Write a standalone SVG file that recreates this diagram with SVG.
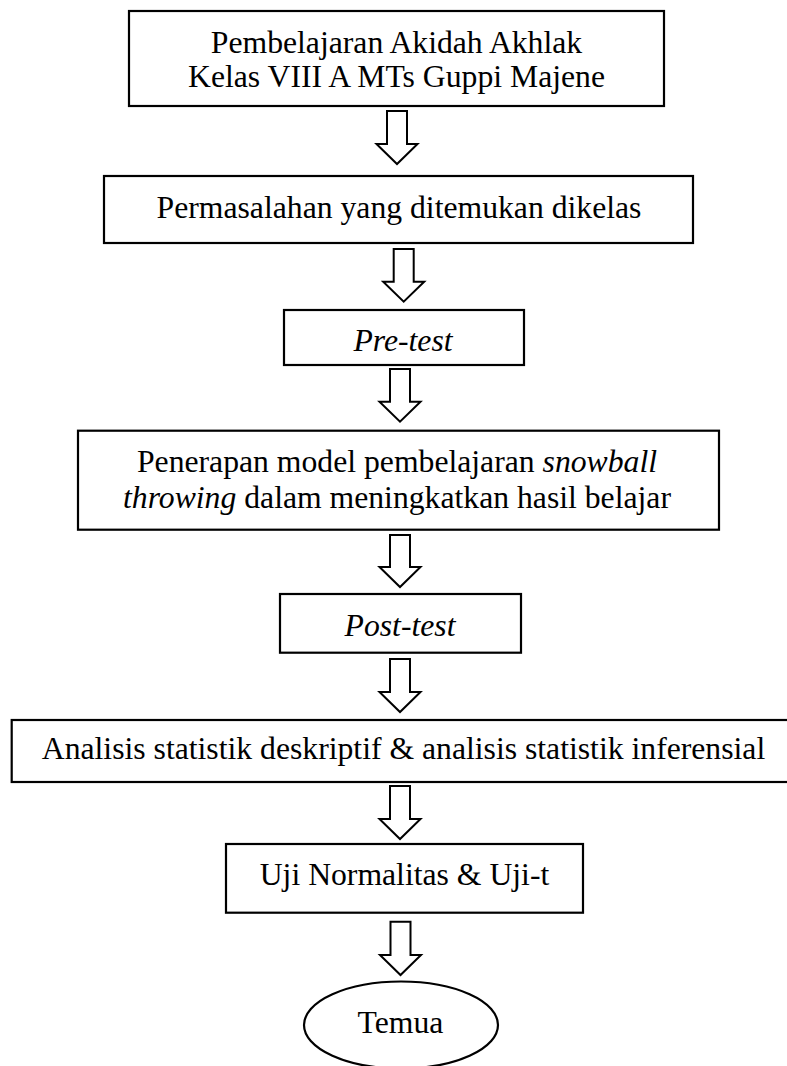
<svg xmlns="http://www.w3.org/2000/svg" width="787" height="1066" viewBox="0 0 787 1066">
<style>
.box{fill:#fff;stroke:#000;stroke-width:2.2}
.arr{fill:#fff;stroke:#000;stroke-width:2;stroke-linejoin:miter}
.t{font-family:"Liberation Serif","Times New Roman",serif;font-size:31.7px;fill:#000;text-anchor:middle}
.i{font-style:italic}
</style>
<rect width="787" height="1066" fill="#fff"/>
<g id="connectors">
<path class="arr" d="M387,111 L407,111 L407,144 L417.5,144 L397,164 L376.5,144 L387,144 Z"/>
<path class="arr" d="M393.7,249 L413.7,249 L413.7,281.7 L424.2,281.7 L403.7,301.7 L383.2,281.7 L393.7,281.7 Z"/>
<path class="arr" d="M390,369 L410,369 L410,401.7 L420.5,401.7 L400,421.7 L379.5,401.7 L390,401.7 Z"/>
<path class="arr" d="M390,535 L410,535 L410,567 L420.5,567 L400,587 L379.5,567 L390,567 Z"/>
<path class="arr" d="M390,659 L410,659 L410,692 L420.5,692 L400,712 L379.5,692 L390,692 Z"/>
<path class="arr" d="M390,786 L410,786 L410,819 L420.5,819 L400,839 L379.5,819 L390,819 Z"/>
<path class="arr" d="M390.5,921.7 L410.5,921.7 L410.5,955 L421,955 L400.5,975 L380,955 L390.5,955 Z"/>
</g>
<g id="n1">
<rect class="box" x="129" y="11" width="535" height="95"/>
<text class="t" x="396.5" y="52.7">Pembelajaran Akidah Akhlak</text>
<text class="t" x="396.5" y="87.3">Kelas VIII A MTs Guppi Majene</text>
</g>
<g id="n2">
<rect class="box" x="104" y="176" width="589" height="67"/>
<text class="t" x="399" y="218">Permasalahan yang ditemukan dikelas</text>
</g>
<g id="n3">
<rect class="box" x="284" y="310" width="240" height="55"/>
<text class="t i" x="403" y="350.7">Pre-test</text>
</g>
<g id="n4">
<rect class="box" x="78" y="430.7" width="641" height="99"/>
<text class="t" x="397" y="471.7">Penerapan model pembelajaran <tspan class="i">snowball</tspan></text>
<text class="t" x="397" y="508"><tspan class="i">throwing</tspan> dalam meningkatkan hasil belajar</text>
</g>
<g id="n5">
<rect class="box" x="280" y="594" width="241" height="58.7"/>
<text class="t i" x="400" y="636">Post-test</text>
</g>
<g id="n6">
<rect class="box" x="11.7" y="720" width="783" height="62"/>
<text class="t" x="403.5" y="759">Analisis statistik deskriptif &amp; analisis statistik inferensial</text>
</g>
<g id="n7">
<rect class="box" x="226" y="844" width="357" height="68.7"/>
<text class="t" x="404.5" y="885">Uji Normalitas &amp; Uji-t</text>
</g>
<g id="n8">
<ellipse class="box" cx="401" cy="1025" rx="97" ry="43.5"/>
<text class="t" x="400.5" y="1033">Temua</text>
</g>
</svg>
